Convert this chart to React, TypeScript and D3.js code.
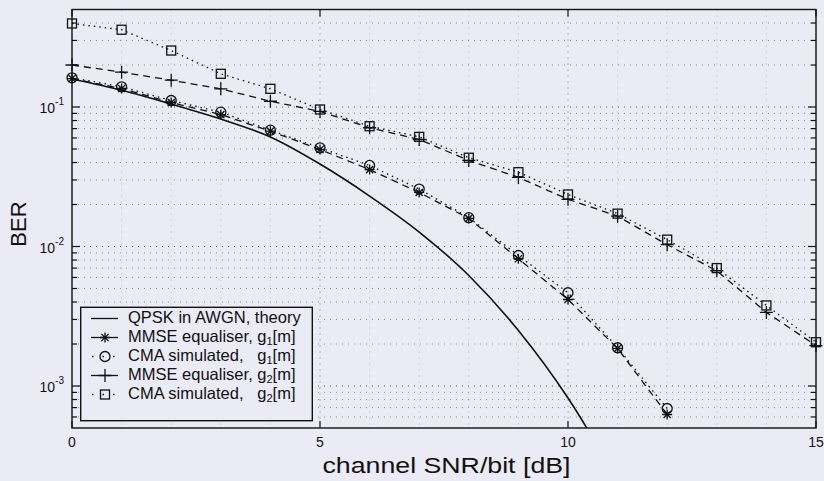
import * as d3 from 'd3';

// channel SNR/bit [dB]
const snrG1 = [0, 1, 2, 3, 4, 5, 6, 7, 8, 9, 10, 11, 12];
const snrG2 = [0, 1, 2, 3, 4, 5, 6, 7, 8, 9, 10, 11, 12, 13, 14, 15];
const snrTheory = [0, 1, 2, 3, 4, 5, 6, 7, 8, 9, 10, 11];

// BER values
const berTheory = [0.159, 0.132, 0.105, 0.082, 0.061, 0.039, 0.023, 0.0127, 0.0062, 0.0025, 0.00082, 0.00021];
const berMmseG1 = [0.16, 0.1357, 0.1077, 0.0883, 0.0671, 0.0496, 0.0356, 0.0244, 0.0159, 0.00817, 0.00417, 0.00186, 0.000625];
const berCmaG1 = [0.162, 0.1396, 0.1113, 0.0918, 0.0682, 0.051, 0.0381, 0.0258, 0.0161, 0.00862, 0.00466, 0.00188, 0.00069];
const berMmseG2 = [0.2, 0.1776, 0.1556, 0.135, 0.11, 0.093, 0.071, 0.0585, 0.0414, 0.0313, 0.0218, 0.0165, 0.0103, 0.0067, 0.00337, 0.00195];
const berCmaG2 = [0.397, 0.358, 0.254, 0.173, 0.135, 0.096, 0.0728, 0.0611, 0.0433, 0.0341, 0.0236, 0.0172, 0.0112, 0.007, 0.00378, 0.00206];

const xTicks = [0, 5, 10, 15];
const yDecades = [-1, -2, -3];

const W = 824;
const H = 481;
const BG = '#ebebf5';
const FONT = "'Liberation Sans', Arial, Helvetica, sans-serif";

const plot = { left: 72, right: 816, top: 9.5, bottom: 428 };

const x = d3.scaleLinear().domain([0, 15]).range([plot.left, plot.right]);
const y = d3.scaleLog().domain([5e-4, 0.5]).range([plot.bottom, plot.top]);

// minor log positions inside the domain
const yMinor: number[] = [];
for (let e = -4; e <= 0; e++) {
  for (let k = 1; k <= 9; k++) {
    const v = k * Math.pow(10, e);
    if (v > 5e-4 * 1.001 && v < 0.5 * 0.999) yMinor.push(v);
  }
}
const xMinor = d3.range(1, 15);

type Pt = [number, number];
const zip = (xs: number[], ys: number[]): Pt[] => xs.map((d, i) => [d, ys[i]]);

const straight = d3.line<Pt>().x(d => x(d[0])).y(d => y(d[1]));
const smooth = d3.line<Pt>().x(d => x(d[0])).y(d => y(d[1])).curve(d3.curveMonotoneX);

function starPath(cx: number, cy: number, r: number) {
  const q = r * 0.72;
  return `M${cx - r},${cy}L${cx + r},${cy}M${cx},${cy - r}L${cx},${cy + r}` +
    `M${cx - q},${cy - q}L${cx + q},${cy + q}M${cx - q},${cy + q}L${cx + q},${cy - q}`;
}
function plusPath(cx: number, cy: number, r: number) {
  return `M${cx - r},${cy}L${cx + r},${cy}M${cx},${cy - r}L${cx},${cy + r}`;
}

function Marker({ kind, cx, cy }: { kind: string; cx: number; cy: number }) {
  const st = { fill: 'none', stroke: '#111', strokeWidth: 1.3 };
  if (kind === 'star') return <path d={starPath(cx, cy, 5)} {...st} />;
  if (kind === 'plus') return <path d={plusPath(cx, cy, 6.5)} {...st} />;
  if (kind === 'circle') return <circle cx={cx} cy={cy} r={5} {...st} />;
  return <rect x={cx - 4.5} y={cy - 4.5} width={9} height={9} {...st} />;
}

const DASH = '7 5';
const DOT = '1.5 4';

const legendRows = [
  { label: 'QPSK in AWGN, theory', sub: '', kind: '', dash: '' },
  { label: 'MMSE equaliser, g', sub: '1', kind: 'star', dash: DASH },
  { label: 'CMA simulated,   g', sub: '1', kind: 'circle', dash: DOT },
  { label: 'MMSE equaliser, g', sub: '2', kind: 'plus', dash: DASH },
  { label: 'CMA simulated,   g', sub: '2', kind: 'square', dash: DOT },
];
const legendBaselines = [323, 342, 361, 380, 399];

export default function App() {
  const series = [
    { xs: snrG1, ys: berMmseG1, kind: 'star', dash: DASH },
    { xs: snrG1, ys: berCmaG1, kind: 'circle', dash: DOT },
    { xs: snrG2, ys: berMmseG2, kind: 'plus', dash: DASH },
    { xs: snrG2, ys: berCmaG2, kind: 'square', dash: DOT },
  ];

  return (
    <div style={{ position: 'absolute', left: 0, top: 0 }}>
      <svg width={W} height={H} style={{ display: 'block', fontFamily: FONT }}>
        <defs>
          <clipPath id="plotClip">
            <rect x={plot.left} y={plot.top} width={plot.right - plot.left} height={plot.bottom - plot.top} />
          </clipPath>
        </defs>
        <rect width={W} height={H} fill={BG} />

        {/* grid */}
        <g stroke="#444" strokeWidth={1} fill="none">
          {yMinor.map(v => (
            <line key={'gy' + v} x1={plot.left} x2={plot.right} y1={y(v)} y2={y(v)}
              strokeDasharray="1 5" opacity={Number.isInteger(Math.log10(v)) ? 0.85 : 0.55} />
          ))}
          {xMinor.map(v => (
            <line key={'gx' + v} x1={x(v)} x2={x(v)} y1={plot.top} y2={plot.bottom}
              strokeDasharray="1 5" opacity={v % 5 === 0 ? 0.7 : 0.3} />
          ))}
        </g>

        {/* curves */}
        <g clipPath="url(#plotClip)" fill="none" stroke="#111">
          <path d={smooth(zip(snrTheory, berTheory)) || ''} strokeWidth={1.6} />
          {series.map((s, i) => (
            <path key={i} d={straight(zip(s.xs, s.ys)) || ''} strokeWidth={1.3} strokeDasharray={s.dash} />
          ))}
        </g>
        {series.map((s, i) => (
          <g key={'m' + i}>
            {s.xs.map((d, j) => <Marker key={j} kind={s.kind} cx={x(d)} cy={y(s.ys[j])} />)}
          </g>
        ))}

        {/* axes box and ticks */}
        <rect x={plot.left} y={plot.top} width={plot.right - plot.left} height={plot.bottom - plot.top}
          fill="none" stroke="#111" strokeWidth={1.4} />
        <g stroke="#111" strokeWidth={1.2}>
          {xTicks.map(t => (
            <g key={'xt' + t}>
              <line x1={x(t)} x2={x(t)} y1={plot.bottom} y2={plot.bottom - 7} />
              <line x1={x(t)} x2={x(t)} y1={plot.top} y2={plot.top + 7} />
            </g>
          ))}
          {yMinor.map(v => {
            const major = Number.isInteger(Math.log10(v));
            const len = major ? 8 : 5;
            return (
              <g key={'yt' + v}>
                <line x1={plot.left} x2={plot.left + len} y1={y(v)} y2={y(v)} />
                <line x1={plot.right} x2={plot.right - len} y1={y(v)} y2={y(v)} />
              </g>
            );
          })}
        </g>

        {/* tick labels */}
        <g fontSize={14} fill="#111">
          {xTicks.map(t => (
            <text key={'xl' + t} x={x(t)} y={447} textAnchor="middle">{t}</text>
          ))}
          {yDecades.map(e => (
            <text key={'yl' + e} x={64} y={y(Math.pow(10, e)) + 6} textAnchor="end">
              10<tspan dy={-8} fontSize={10}>{e}</tspan>
            </text>
          ))}
        </g>

        {/* axis titles */}
        <text x={446.5} y={473} fontSize={22} textAnchor="middle" fill="#111" textLength={248} lengthAdjust="spacingAndGlyphs">
          channel SNR/bit [dB]
        </text>
        <text transform="translate(25.5,224) rotate(-90)" fontSize={22} textAnchor="middle" fill="#111">
          BER
        </text>

        {/* legend */}
        <rect x={80.7} y={307.3} width={231.6} height={113.4} fill={BG} stroke="#111" strokeWidth={1.4} />
        {legendRows.map((r, i) => {
          const by = legendBaselines[i];
          const my = by - 4.5;
          return (
            <g key={'lg' + i}>
              {r.kind === '' || r.dash === DASH ? (
                <line x1={91} x2={118} y1={my} y2={my} stroke="#111" strokeWidth={1.3} />
              ) : (
                <line x1={91} x2={118} y1={my} y2={my} stroke="#111" strokeWidth={1.3} strokeDasharray="1.5 9" strokeDashoffset={-1} />
              )}
              {r.kind && <Marker kind={r.kind} cx={105} cy={my} />}
              <text x={128} y={by} fontSize={16.5} fill="#111" style={{ whiteSpace: 'pre' }}>
                {r.label}
                {r.sub && <tspan dy={3} fontSize={11}>{r.sub}</tspan>}
                {r.sub && <tspan dy={-3}>[m]</tspan>}
              </text>
            </g>
          );
        })}
      </svg>
    </div>
  );
}
